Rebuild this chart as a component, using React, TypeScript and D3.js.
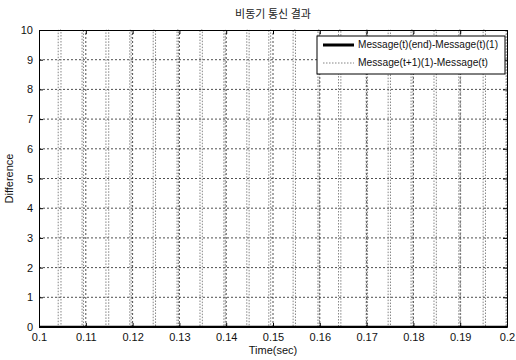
import * as d3 from "d3";
import React from "react";

// tick values
const xTicks = [0.1, 0.11, 0.12, 0.13, 0.14, 0.15, 0.16, 0.17, 0.18, 0.19, 0.2];
const yTicks = [0, 1, 2, 3, 4, 5, 6, 7, 8, 9, 10];

// series 1: constant at zero
const endTimes = [0.1, 0.2];
const endValues = [0, 0];

// series 2: spikes
const spikeTimes = [0.1041, 0.1092, 0.1143, 0.1194, 0.1244, 0.1295, 0.1344, 0.1395, 0.1444, 0.1491,
    0.1543, 0.1596, 0.164, 0.1699, 0.1746, 0.1795, 0.1844, 0.1897, 0.1949, 0.1998];
const spikeWidths = [0.0006, 0.0003, 0.0006, 0.0003, 0.0005, 0.0003, 0.0005, 0.0003, 0.0005, 0.0004,
    0.0005, 0.0003, 0.0005, 0.0003, 0.0005, 0.0004, 0.0005, 0.0004, 0.0005, 0.0002];
const spikePeak = 10;

const legendLabels = ["Message(t)(end)-Message(t)(1)", "Message(t+1)(1)-Message(t)"];

const W = 516;
const H = 360;
const margin = { left: 39, right: 9, top: 30, bottom: 33 };
const font = "'Liberation Sans', Arial, sans-serif";

const App = () => {
    const ref = React.useRef<SVGSVGElement>(null);

    React.useEffect(() => {
        const svg = d3.select(ref.current);
        svg.selectAll("*").remove();

        const x = d3.scaleLinear().domain([0.1, 0.2]).range([margin.left, W - margin.right]);
        const y = d3.scaleLinear().domain([0, 10]).range([H - margin.bottom, margin.top]);
        const [x0, x1] = x.range();
        const [y0, y1] = y.range();

        svg.append("rect")
            .attr("x", x0).attr("y", y1)
            .attr("width", x1 - x0).attr("height", y0 - y1)
            .attr("fill", "white");

        svg.append("clipPath").attr("id", "plot-clip")
            .append("rect")
            .attr("x", x0).attr("y", y1 - 1)
            .attr("width", x1 - x0).attr("height", y0 - y1 + 2);

        // grid
        const grid = svg.append("g").attr("stroke", "#222").attr("stroke-width", 0.8).attr("stroke-dasharray", "2,2");
        xTicks.slice(1, -1).forEach(t => {
            grid.append("line").attr("x1", x(t)).attr("x2", x(t)).attr("y1", y0).attr("y2", y1);
        });
        yTicks.slice(1, -1).forEach(t => {
            grid.append("line").attr("x1", x0).attr("x2", x1).attr("y1", y(t)).attr("y2", y(t));
        });

        // spikes series
        const spikePts: [number, number][] = [[0.1, 0]];
        spikeTimes.forEach((t, i) => {
            spikePts.push([t, 0], [t, spikePeak], [t + spikeWidths[i], spikePeak], [t + spikeWidths[i], 0]);
        });
        spikePts.push([0.2, 0]);
        const line = d3.line<[number, number]>().x(d => x(d[0])).y(d => y(d[1]));
        svg.append("path")
            .attr("clip-path", "url(#plot-clip)")
            .attr("d", line(spikePts))
            .attr("fill", "none")
            .attr("stroke", "#777")
            .attr("stroke-width", 0.9)
            .attr("stroke-dasharray", "1.5,1.5");

        // constant series
        svg.append("path")
            .attr("clip-path", "url(#plot-clip)")
            .attr("d", line(endTimes.map((t, i) => [t, endValues[i]] as [number, number])))
            .attr("fill", "none")
            .attr("stroke", "black")
            .attr("stroke-width", 2.5);

        // axes box with inner ticks on all sides
        const axisB = d3.axisBottom(x).tickValues(xTicks).tickSizeInner(-4).tickSizeOuter(0).tickPadding(6)
            .tickFormat(d => d3.format("")(+d.valueOf()));
        const axisL = d3.axisLeft(y).tickValues(yTicks).tickSizeInner(-4).tickSizeOuter(0).tickPadding(6);
        const axisT = d3.axisTop(x).tickValues(xTicks).tickSizeInner(-4).tickSizeOuter(0).tickFormat(() => "");
        const axisR = d3.axisRight(y).tickValues(yTicks).tickSizeInner(-4).tickSizeOuter(0).tickFormat(() => "");

        const gb = svg.append("g").attr("transform", `translate(0,${y0})`).call(axisB);
        const gl = svg.append("g").attr("transform", `translate(${x0},0)`).call(axisL);
        svg.append("g").attr("transform", `translate(0,${y1})`).call(axisT);
        svg.append("g").attr("transform", `translate(${x1},0)`).call(axisR);
        svg.selectAll(".domain").attr("stroke", "black").attr("stroke-width", 1);
        svg.selectAll(".tick line").attr("stroke", "black");
        [gb, gl].forEach(g => g.selectAll("text")
            .attr("font-family", font).attr("font-size", 11).attr("fill", "#111"));

        // legend
        const lg = svg.append("g");
        lg.append("rect")
            .attr("x", 317).attr("y", 36).attr("width", 188).attr("height", 38)
            .attr("fill", "white").attr("stroke", "black").attr("stroke-width", 1);
        legendLabels.forEach((label, i) => {
            const ly = 45 + i * 18;
            lg.append("line")
                .attr("x1", 323).attr("x2", 354).attr("y1", ly).attr("y2", ly)
                .attr("stroke", i === 0 ? "black" : "#777")
                .attr("stroke-width", i === 0 ? 3 : 0.9)
                .attr("stroke-dasharray", i === 0 ? null : "1.5,1.5");
            lg.append("text")
                .attr("x", 358).attr("y", ly)
                .attr("dominant-baseline", "middle")
                .attr("font-family", font).attr("font-size", 10.5).attr("fill", "#111")
                .attr("textLength", i === 0 ? 140 : 130)
                .attr("lengthAdjust", "spacingAndGlyphs")
                .text(label);
        });

        // title and axis labels
        svg.append("text")
            .attr("x", (x0 + x1) / 2).attr("y", 18)
            .attr("text-anchor", "middle")
            .attr("font-family", "'Noto Sans CJK KR', sans-serif").attr("font-size", 11).attr("fill", "#222")
            .text("비동기 통신 결과");
        svg.append("text")
            .attr("x", (x0 + x1) / 2).attr("y", 354)
            .attr("text-anchor", "middle")
            .attr("font-family", font).attr("font-size", 11).attr("fill", "#111")
            .text("Time(sec)");
        svg.append("text")
            .attr("transform", `translate(13,${(y0 + y1) / 2}) rotate(-90)`)
            .attr("text-anchor", "middle")
            .attr("font-family", font).attr("font-size", 11).attr("fill", "#111")
            .text("Difference");
    }, []);

    return (
        <svg ref={ref} width={W} height={H}
            style={{ position: "absolute", left: 0, top: 0, background: "white" }} />
    );
};

export default App;
